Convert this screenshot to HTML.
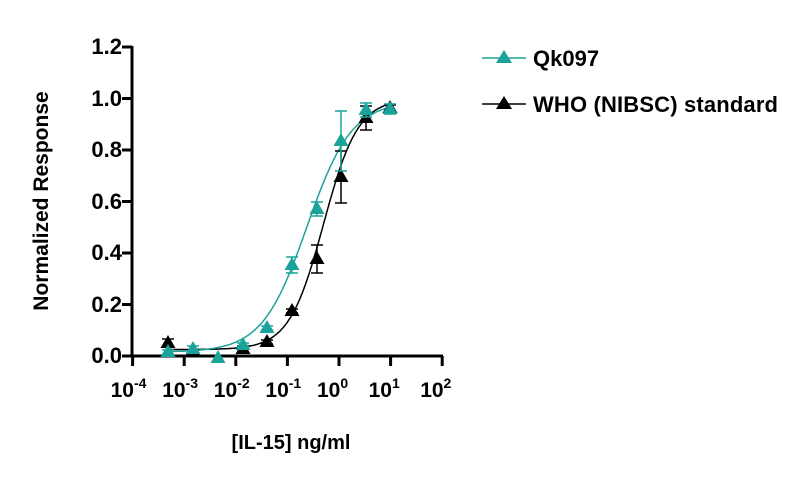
<!DOCTYPE html><html><head><style>body{margin:0;background:#fff}svg{display:block}text{font-family:"Liberation Sans",Arial,sans-serif;font-weight:bold;fill:#000}</style></head><body>
<svg id="s" width="800" height="480" viewBox="0 0 800 480">
<g font-size="22" text-anchor="end">
<text x="122" y="54">1.2</text><text x="122" y="106">1.0</text><text x="122" y="157">0.8</text><text x="122" y="209">0.6</text><text x="122" y="260">0.4</text><text x="122" y="312">0.2</text><text x="122" y="363">0.0</text>
</g>
<text transform="translate(48,201) rotate(-90)" font-size="21" text-anchor="middle">Normalized Response</text>
<text x="291" y="449" font-size="20" text-anchor="middle">[IL-15] ng/ml</text>
<g id="xt" font-size="21"></g>
<g stroke="#000" stroke-width="3" fill="none">
<path d="M132,46V357.5M130.5,356H443"/>
<path d="M122,47H132M122,98.5H132M122,150H132M122,201.5H132M122,253H132M122,304.5H132M122,356H132"/>
<path id="xtk" d=""/>
</g>
<g id="plot"></g>
<path d="M482,58H526" stroke="#1aa39a" stroke-width="1.5"/><path d="M504,50l8,13h-16z" fill="#1aa39a"/>
<text x="533" y="66" font-size="22">Qk097</text>
<path d="M482,104H526" stroke="#000" stroke-width="1.5"/><path d="M504,96l8,13h-16z" fill="#000"/>
<text x="533" y="112" font-size="22" textLength="245">WHO (NIBSC) standard</text>
</svg>
<script>
var X=function(l){return 339+l*51.6},Y=function(v){return 356-v*257.5};
var xt=document.getElementById('xt'),d='';
for(var i=-4;i<=2;i++){var x=X(i);d+='M'+x+',356V366';
xt.innerHTML+='<text x="'+(x-22)+'" y="397">10<tspan dy="-9" font-size="14">'+i+'</tspan></text>';}
document.getElementById('xtk').setAttribute('d',d);
function curve(b,t,e,h,c){var p='';for(var l=-3.35;l<=1.01;l+=0.02){var v=b+(t-b)/(1+Math.pow(10,(e-l)*h));p+=(p?'L':'M')+X(l).toFixed(1)+','+Y(v).toFixed(1);}return '<path d="'+p+'" fill="none" stroke="'+c+'" stroke-width="1.5"/>';}
var T='#1aa39a',g='';
g+=curve(0.025,1.0,-0.3,1.3,'#000');
g+=curve(0.015,0.99,-0.62,1.0,T);
function pts(arr,c){var s='';arr.forEach(function(a){var x=a[0],y=a[1],e=a[2]||0;
if(e){s+='<path d="M'+x+','+(y-e)+'V'+(y+e)+'M'+(x-6)+','+(y-e)+'H'+(x+6)+'M'+(x-6)+','+(y+e)+'H'+(x+6)+'" stroke="'+c+'" stroke-width="1.5"/>';}
s+='<path d="M'+x+','+(y-8)+'l7.5,13h-15z" fill="'+c+'"/>';});return s;}
g+=pts([[168,343,4],[193,351,0],[243,349,3],[267,342,2],[292,311,2],[317,259,14],[341,177,26],[366,118,12],[390,108,3]],'#000');
g+=pts([[168,352,2],[193,349,3],[218,358,0],[243,345,2],[267,328,2],[292,265,8],[317,209,7],[341,141,30],[366,110,7],[390,109,5]],T);
document.getElementById('plot').innerHTML=g;
</script>
</body></html>
